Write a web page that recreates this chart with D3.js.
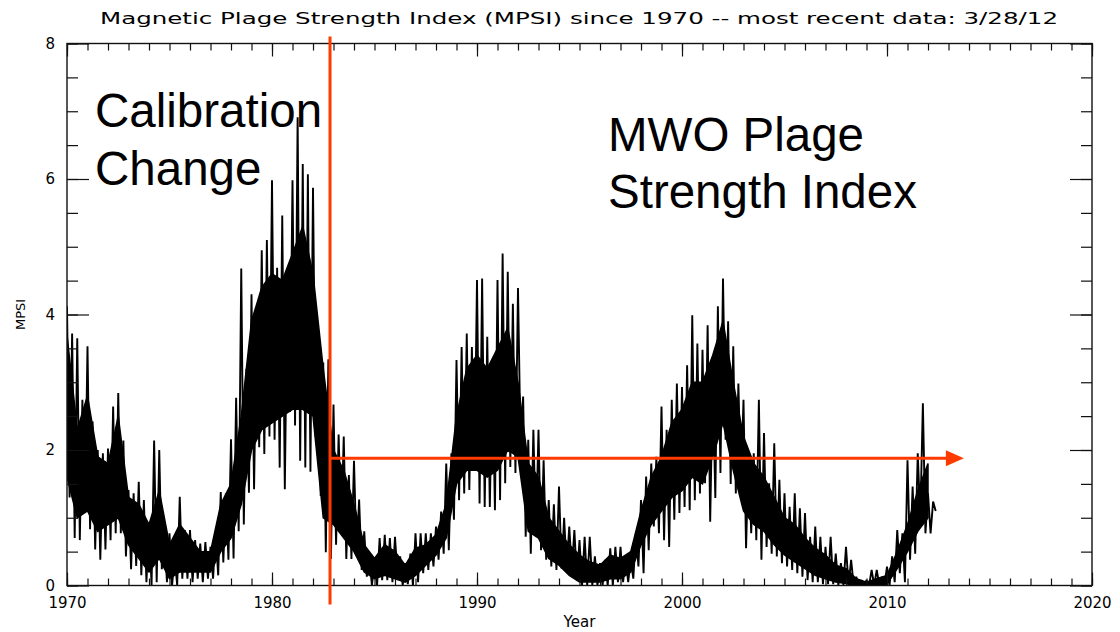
<!DOCTYPE html>
<html><head><meta charset="utf-8">
<script src="https://cdn.jsdelivr.net/npm/d3@7"></script>
<style>body{margin:0;background:#fff} svg{display:block}</style>
</head><body>
<svg id="c" width="1120" height="632"></svg>
<script>
// ---------- data ----------
const chartTitle = "Magnetic Plage Strength Index (MPSI) since 1970 -- most recent data:  3/28/12";
const xLabel = "Year";
const yLabel = "MPSI";
const xMajorTicks = [1970, 1980, 1990, 2000, 2010, 2020];
const yMajorTicks = [0, 2, 4, 6, 8];
// quarter-year samples starting 1970.0 : upper and lower extremes (spikes) of the daily index
const sampleStart = 1970, sampleStep = 0.25;
const mpsiHigh = [
  4.12,3.72,3.65,2.74, 3.53,2.42,2.00,1.95, 2.02,2.64,2.84,2.14, 1.41,1.36,1.53,1.26,
  0.92,2.14,2.00,0.77, 0.77,0.43,1.31,0.82, 0.82,0.67,0.62,0.64, 0.57,0.77,1.38,1.36,
  2.16,2.77,4.68,3.20, 4.30,3.95,4.95,5.10, 5.98,4.69,5.46,4.48, 5.98,6.91,6.22,6.07,
  5.87,3.65,3.29,3.34, 2.67,2.23,2.20,1.63, 1.84,1.27,0.80,0.39, 0.34,0.70,0.75,0.70,
  0.72,0.43,0.33,0.47, 0.77,0.77,0.77,0.77, 0.87,1.09,1.80,1.95, 3.33,3.52,3.72,3.52,
  4.51,4.53,3.67,3.23, 4.51,4.90,4.63,4.16, 4.39,2.79,2.15,2.30, 2.30,1.85,1.26,1.20,
  1.46,1.00,0.87,0.82, 0.67,0.72,0.72,0.43, 0.33,0.38,0.55,0.57, 0.57,0.38,0.38,0.77,
  1.26,1.61,1.80,1.90, 2.64,2.30,2.74,2.98, 2.93,3.25,3.99,3.57, 3.48,3.84,3.06,4.12,
  4.53,3.90,3.53,2.98, 2.74,1.95,1.95,2.74, 2.25,1.51,2.10,1.56, 1.36,1.16,1.36,1.14,
  1.07,0.72,0.87,0.72, 0.57,0.72,0.47,0.33, 0.57,0.38,0.13,0.08, 0.08,0.23,0.23,0.13,
  0.28,0.43,0.82,0.77, 1.85,1.46,1.95,2.69, 1.36,1.24
];
const mpsiLow = [
  1.30,0.70,0.67,1.07, 0.83,0.53,0.38,0.53, 0.67,0.77,0.77,0.43, 0.24,0.29,0.15,0.05,
  0.00,0.05,0.24,0.05, 0.00,0.00,0.10,0.10, 0.05,0.10,0.05,0.10, 0.10,0.15,0.34,0.38,
  0.40,0.80,0.90,1.37, 1.42,2.04,1.94,2.20, 2.15,1.74,1.42,2.56, 2.36,1.84,1.74,1.68,
  2.20,1.32,0.49,0.39, 0.60,0.80,0.39,0.39, 0.44,0.23,0.13,0.00, 0.00,0.08,0.08,0.05,
  0.13,0.00,0.02,0.00, 0.05,0.18,0.23,0.28, 0.38,0.47,0.52,0.97, 1.26,1.36,1.41,1.75,
  1.21,1.16,1.16,1.11, 1.26,1.51,1.75,1.66, 2.05,0.72,0.47,0.72, 0.52,0.38,0.28,0.23,
  0.25,0.25,0.23,0.08, 0.00,0.00,0.00,0.00, 0.00,0.00,0.00,0.05, 0.05,0.05,0.10,0.28,
  0.18,0.52,0.87,0.77, 0.67,0.57,0.97,1.07, 1.16,1.11,1.26,1.36, 1.51,0.94,1.29,1.66,
  2.15,1.50,1.36,1.46, 0.55,0.77,0.67,0.38, 0.57,0.47,0.43,0.33, 0.28,0.23,0.18,0.13,
  0.08,0.05,0.05,0.02, 0.02,0.02,0.00,0.00, 0.00,0.00,0.00,0.00, 0.00,0.00,0.00,0.00,
  0.00,0.05,0.18,0.05, 0.38,0.47,0.97,0.77, 0.77,1.10
];
// half-year samples starting 1970.0 : top and bottom of the dense (solid) band
const coreStart = 1970, coreStep = 0.5;
const coreHigh = [
  3.7,2.3, 2.8,1.9, 1.8,2.5, 1.3,1.2, 0.9,1.4, 0.6,0.9, 0.7,0.5, 0.5,1.2,
  1.5,2.5, 3.9,4.4, 4.6,4.5, 4.9,5.3, 4.6,3.2, 2.0,1.7, 1.2,0.6, 0.4,0.6,
  0.5,0.3, 0.55,0.6, 0.75,1.2, 2.5,3.2, 3.4,3.2, 3.5,3.8, 3.0,1.8, 1.6,1.0,
  0.8,0.6, 0.45,0.35, 0.3,0.45, 0.4,0.5, 1.1,1.6, 1.9,2.4, 2.6,3.0, 3.0,3.4,
  3.9,3.0, 2.2,1.8, 1.6,1.3, 1.0,0.9, 0.7,0.55, 0.45,0.3, 0.25,0.1, 0.05,0.1,
  0.15,0.5, 0.9,1.4, 1.8
];
const coreLow = [
  1.6,1.0, 1.1,0.8, 0.9,1.0, 0.6,0.4, 0.2,0.4, 0.1,0.2, 0.2,0.2, 0.2,0.5,
  0.7,1.2, 2.0,2.3, 2.4,2.5, 2.6,2.6, 2.5,1.0, 0.9,0.7, 0.5,0.2, 0.1,0.15,
  0.1,0.05, 0.15,0.3, 0.45,0.7, 1.5,1.7, 1.7,1.6, 1.7,2.0, 1.9,0.8, 0.7,0.4,
  0.3,0.15, 0.05,0.05, 0.05,0.1, 0.1,0.2, 0.6,0.9, 1.1,1.3, 1.4,1.6, 1.5,1.9,
  2.4,1.7, 1.1,0.9, 0.8,0.6, 0.45,0.35, 0.25,0.15, 0.1,0.05, 0.03,0.0, 0.0,0.0,
  0.02,0.25, 0.5,0.8, 1.0
];
const calibrationYear = 1982.83;
const arrowLevel = 1.88, arrowEndYear = 2013.75;
const noteLeft = ["Calibration", "Change"];
const noteRight = ["MWO Plage", "Strength Index"];

// ---------- drawing ----------
const svg = d3.select("#c");
const x = d3.scaleLinear().domain([1970, 2020]).range([67, 1092]);
const y = d3.scaleLinear().domain([0, 8]).range([585.5, 43.5]);
const red = "#ff3a00";
const axisFont = "'DejaVu Sans', sans-serif";

svg.append("clipPath").attr("id", "pc").append("rect")
  .attr("x", x(1970)).attr("y", y(8)).attr("width", x(2020) - x(1970)).attr("height", y(0) - y(8));
const plot = svg.append("g").attr("clip-path", "url(#pc)");

// dense band
const core = coreHigh.map((h, i) => ({ t: coreStart + i * coreStep, hi: h, lo: coreLow[i] }));
plot.append("path").datum(core)
  .attr("fill", "#000").attr("stroke", "#000").attr("stroke-width", 1.5)
  .attr("d", d3.area().x(d => x(d.t)).y0(d => y(d.lo)).y1(d => y(d.hi)));

// spikes
const pts = [];
mpsiHigh.forEach((h, i) => {
  const t = sampleStart + i * sampleStep;
  pts.push([t, h]);
  pts.push([t + sampleStep / 2, mpsiLow[i]]);
});
plot.append("path").datum(pts)
  .attr("fill", "none").attr("stroke", "#000").attr("stroke-width", 1.9)
  .attr("stroke-linejoin", "miter").attr("stroke-miterlimit", 2)
  .attr("d", d3.line().x(d => x(d[0])).y(d => y(d[1])));

// axes (ticks inward, IDL style)
function styleAxis(g) {
  g.select(".domain").remove();
  g.selectAll("line").attr("stroke", "#111").attr("stroke-width", 1.2);
  g.selectAll("text").attr("font-family", axisFont).attr("font-size", 15).attr("fill", "#000");
}
const yearMinor = d3.range(1970, 2021, 1);
const valMinor = d3.range(0, 8.01, 0.5);
svg.append("g").attr("transform", `translate(0,${y(0)})`)
  .call(d3.axisBottom(x).tickValues(yearMinor).tickSize(-7).tickFormat("")).call(styleAxis);
svg.append("g").attr("transform", `translate(0,${y(0)})`)
  .call(d3.axisBottom(x).tickValues(xMajorTicks).tickSize(-13).tickPadding(12).tickFormat(d3.format("d"))).call(styleAxis);
svg.append("g").attr("transform", `translate(0,${y(8)})`)
  .call(d3.axisTop(x).tickValues(yearMinor).tickSize(-7).tickFormat("")).call(styleAxis);
svg.append("g").attr("transform", `translate(0,${y(8)})`)
  .call(d3.axisTop(x).tickValues(xMajorTicks).tickSize(-13).tickFormat("")).call(styleAxis);
svg.append("g").attr("transform", `translate(${x(1970)},0)`)
  .call(d3.axisLeft(y).tickValues(valMinor).tickSize(-11).tickFormat("")).call(styleAxis);
svg.append("g").attr("transform", `translate(${x(1970)},0)`)
  .call(d3.axisLeft(y).tickValues(yMajorTicks).tickSize(-22).tickPadding(12).tickFormat(d3.format("d"))).call(styleAxis);
svg.append("g").attr("transform", `translate(${x(2020)},0)`)
  .call(d3.axisRight(y).tickValues(valMinor).tickSize(-11).tickFormat("")).call(styleAxis);
svg.append("g").attr("transform", `translate(${x(2020)},0)`)
  .call(d3.axisRight(y).tickValues(yMajorTicks).tickSize(-22).tickFormat("")).call(styleAxis);
svg.append("rect").attr("x", x(1970)).attr("y", y(8)).attr("width", x(2020) - x(1970)).attr("height", y(0) - y(8))
  .attr("fill", "none").attr("stroke", "#111").attr("stroke-width", 1.4);

// titles
svg.append("text").attr("x", 100).attr("y", 24).attr("textLength", 958).attr("lengthAdjust", "spacingAndGlyphs")
  .attr("font-family", axisFont).attr("font-size", 16).text(chartTitle);
svg.append("text").attr("x", (x(1970) + x(2020)) / 2).attr("y", 627).attr("text-anchor", "middle")
  .attr("font-family", axisFont).attr("font-size", 15).text(xLabel);
svg.append("text").attr("transform", `translate(25,${y(4)}) rotate(-90)`).attr("text-anchor", "middle")
  .attr("font-family", axisFont).attr("font-size", 13).text(yLabel);

// annotations
svg.append("line").attr("x1", x(calibrationYear)).attr("x2", x(calibrationYear))
  .attr("y1", y(8) - 7).attr("y2", y(0) + 19).attr("stroke", red).attr("stroke-width", 3);
const arrowTipX = x(arrowEndYear), ay = y(arrowLevel);
svg.append("line").attr("x1", x(calibrationYear)).attr("x2", arrowTipX - 16)
  .attr("y1", ay).attr("y2", ay).attr("stroke", red).attr("stroke-width", 3);
svg.append("path").attr("d", `M${arrowTipX},${ay} L${arrowTipX - 18},${ay - 8} L${arrowTipX - 18},${ay + 8} Z`).attr("fill", red);

const bigFont = "'Liberation Sans', Arial, sans-serif";
noteLeft.forEach((s, i) => svg.append("text").attr("x", 95).attr("y", 127 + i * 58)
  .attr("font-family", bigFont).attr("font-size", 47.5).text(s));
noteRight.forEach((s, i) => svg.append("text").attr("x", 608).attr("y", 151 + i * 57)
  .attr("font-family", bigFont).attr("font-size", 47.5).text(s));
</script>
</body></html>
